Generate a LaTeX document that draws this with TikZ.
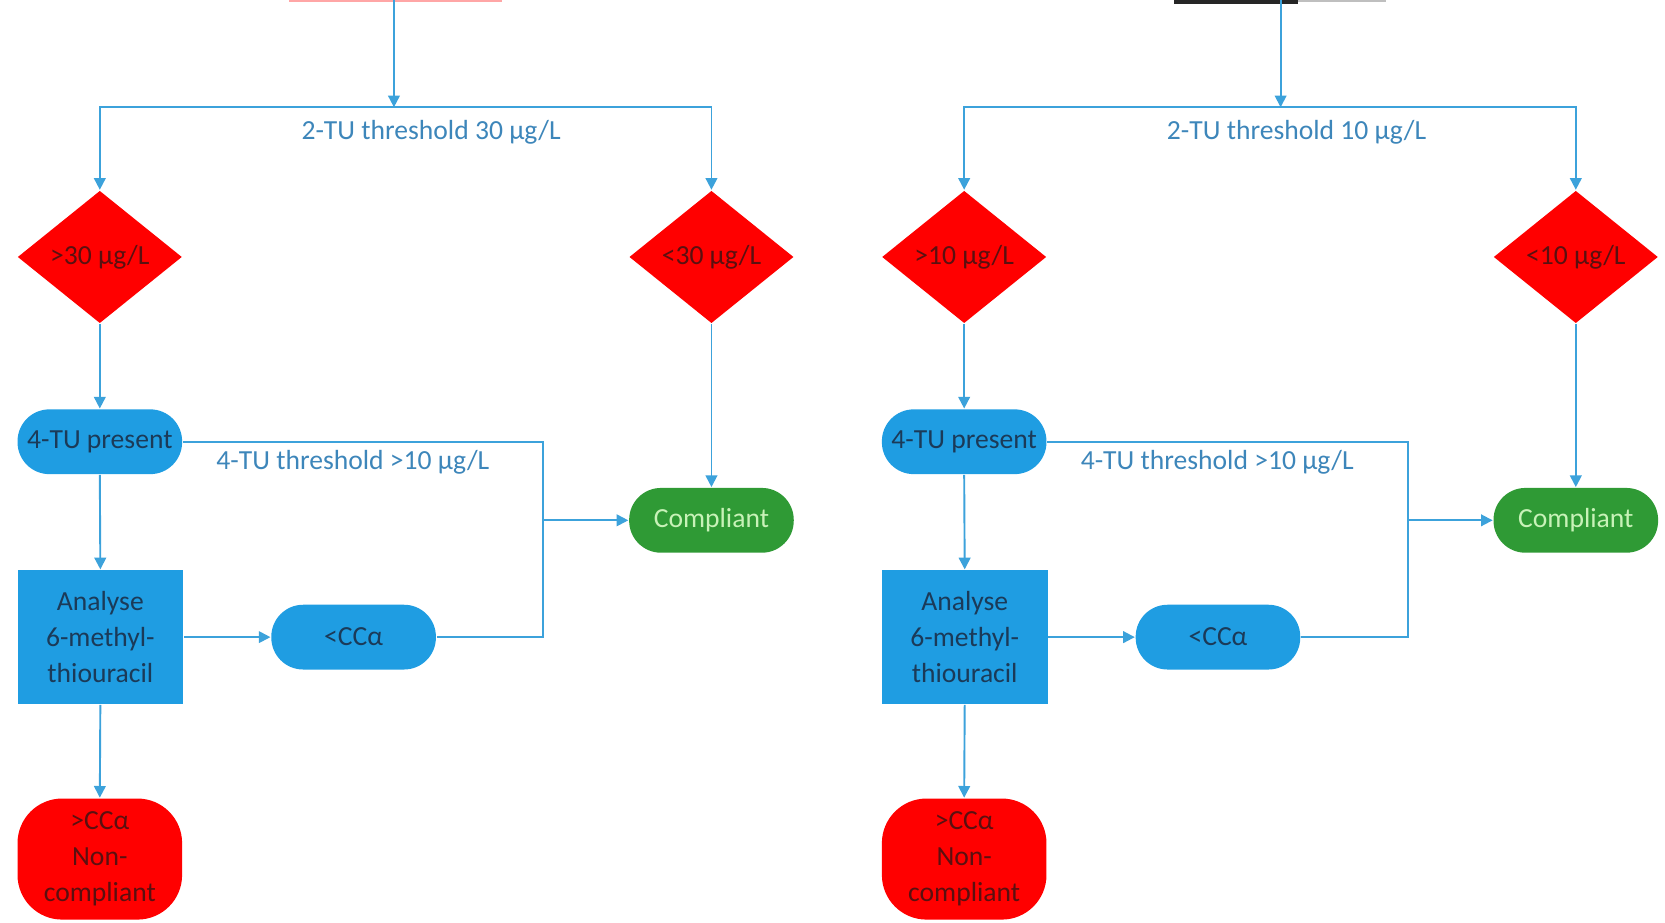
\documentclass[tikz,border=0pt]{standalone}
\usepackage{fontspec}
\setmainfont{Carlito}
\usetikzlibrary{shapes.geometric,arrows.meta}

\definecolor{flowline}{HTML}{3CA2DB}
\definecolor{flowblue}{HTML}{1F9DE2}
\definecolor{flowred}{HTML}{FF0000}
\definecolor{flowgreen}{HTML}{2F9A35}
\definecolor{labeltext}{HTML}{3D86BA}
\definecolor{bluetext}{HTML}{1B3A58}
\definecolor{redtext}{HTML}{5A1010}
\definecolor{greentext}{HTML}{C8F2B8}

\tikzset{every picture/.style={line width=0.8pt},
  flowfont/.style={font=\fontsize{13}{17}\selectfont},
  flow/.style={draw=flowline, line width=0.9pt},
  flowarrow/.style={flow, -{Triangle[length=5.5pt,width=5.5pt]}},
  decision/.style={diamond, fill=flowred, text=redtext, minimum width=77.5pt, minimum height=62.5pt, inner sep=0pt, flowfont},
  pill/.style={rectangle, rounded corners=15pt, fill=flowblue, text=bluetext, minimum width=77.5pt, minimum height=30.5pt, inner sep=0pt, flowfont},
  okpill/.style={pill, fill=flowgreen, text=greentext},
  process/.style={rectangle, fill=flowblue, text=bluetext, minimum width=78pt, minimum height=63pt, inner sep=0pt, align=center, flowfont},
  failbox/.style={rectangle, rounded corners=21pt, fill=flowred, text=redtext, minimum width=77.5pt, minimum height=57pt, inner sep=0pt, align=center, flowfont},
  flowlabel/.style={text=labeltext, inner sep=0pt, flowfont}
}

\begin{document}
\begin{tikzpicture}[x=0.5pt,y=0.5pt,yscale=-1,xscale=1]
\useasboundingbox (0,0) rectangle (1568,869);

%cut-off title remnants
\fill[flowred!35] (272,0) rectangle (473,2);
\fill[black!85] (1106,0) rectangle (1222,4);
\fill[black!25] (1222,0) rectangle (1305,2);

%Left flow: 30 µg/L
\coordinate (topL) at (371,0);
\coordinate (splitL) at (371,101);
\coordinate (jL) at (511,490);
\node[decision] (hiL) at (94,242) {>30 µg/L};
\node[decision] (loL) at (670,242) {<30 µg/L};
\node[pill] (tuL) at (94,416) {4-TU present};
\node[process] (anL) at (94.5,600) {Analyse\\6-methyl-\\thiouracil};
\node[pill] (ccL) at (333,600) {<CCα};
\node[failbox] (ncL) at (94,809) {>CCα\\Non-\\compliant};
\node[okpill] (okL) at (670,490) {Compliant};

%Straight Lines
\draw[flowarrow] (topL) -- (splitL);
\draw[flowarrow] (splitL) -| (hiL.north);
\draw[flowarrow] (splitL) -| (loL.north);
\draw[flowarrow] (hiL.south) -- (tuL.north);
\draw[flowarrow] (tuL.south) -- (anL.north);
\draw[flowarrow] (anL.east) -- (ccL.west);
\draw[flowarrow] (anL.south) -- (ncL.north);
\draw[flowarrow] (loL.south) -- (okL.north);
\draw[flow] (tuL.east) -| (jL);
\draw[flow] (ccL.east) -| (jL);
\draw[flowarrow] (jL) -- (okL.west);

% Text Node
\node[flowlabel] (thrL) at (406,125) {2-TU threshold 30 µg/L};
% Text Node
\node[flowlabel, anchor=west] (tuthrL) at (203,435) {4-TU threshold >10 µg/L};

%Right flow: 10 µg/L
\coordinate (topR) at (1206,0);
\coordinate (splitR) at (1206,101);
\coordinate (jR) at (1326,490);
\node[decision] (hiR) at (908,242) {>10 µg/L};
\node[decision] (loR) at (1484,242) {<10 µg/L};
\node[pill] (tuR) at (908,416) {4-TU present};
\node[process] (anR) at (908.5,600) {Analyse\\6-methyl-\\thiouracil};
\node[pill] (ccR) at (1147,600) {<CCα};
\node[failbox] (ncR) at (908,809) {>CCα\\Non-\\compliant};
\node[okpill] (okR) at (1484,490) {Compliant};

%Straight Lines
\draw[flowarrow] (topR) -- (splitR);
\draw[flowarrow] (splitR) -| (hiR.north);
\draw[flowarrow] (splitR) -| (loR.north);
\draw[flowarrow] (hiR.south) -- (tuR.north);
\draw[flowarrow] (tuR.south) -- (anR.north);
\draw[flowarrow] (anR.east) -- (ccR.west);
\draw[flowarrow] (anR.south) -- (ncR.north);
\draw[flowarrow] (loR.south) -- (okR.north);
\draw[flow] (tuR.east) -| (jR);
\draw[flow] (ccR.east) -| (jR);
\draw[flowarrow] (jR) -- (okR.west);

% Text Node
\node[flowlabel] (thrR) at (1221,125) {2-TU threshold 10 µg/L};
% Text Node
\node[flowlabel, anchor=west] (tuthrR) at (1017,435) {4-TU threshold >10 µg/L};

\end{tikzpicture}
\end{document}
